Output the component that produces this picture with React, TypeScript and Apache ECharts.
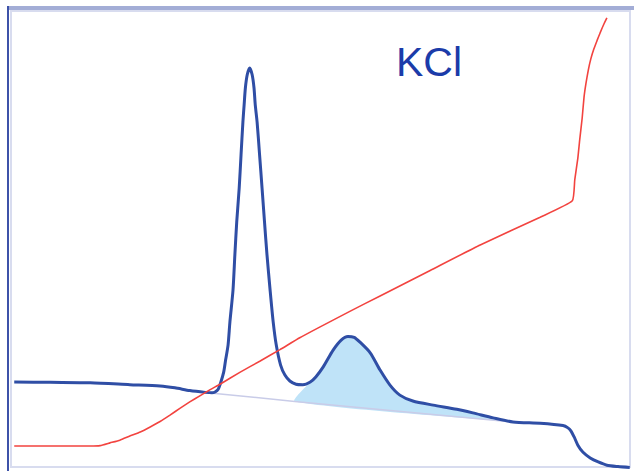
import React, { useEffect, useRef } from "react";
import * as echarts from "echarts";

// UV trace (blue): elution volume (% of run) vs absorbance (% of full scale)
const uvVolume = [
  0.2, 6.0, 12.5, 18.9, 23.8, 26.2, 28.6, 31.1, 32.2, 32.7, 33.2, 33.6, 34.1, 34.4,
  34.8, 35.1, 35.6, 35.9, 36.2, 36.6, 36.9, 37.2, 37.4, 37.6, 37.9, 38.3, 38.7, 39.0,
  39.2, 39.5, 39.9, 40.3, 40.7, 41.1, 41.6, 42.1, 42.6, 43.3, 44.0, 44.8, 45.8, 46.9,
  48.1, 49.0, 50.2, 51.8, 53.1, 54.2, 55.2, 56.1, 57.8, 59.4, 61.0, 62.6, 64.7, 68.0,
  71.8, 74.4, 77.7, 80.9, 85.3, 89.0, 89.8, 90.3, 90.8, 91.4, 92.2, 93.4, 94.7, 96.1,
  97.9, 99.8,
];
const uvAbsorbance = [
  18.7, 18.6, 18.5, 18.1, 17.8, 17.4, 16.8, 16.4, 16.3, 16.5, 17.1, 18.5, 20.9, 23.5,
  26.8, 31.9, 38.9, 46.6, 53.8, 61.3, 68.6, 75.8, 79.6, 83.3, 86.2, 87.7, 86.2, 83.3,
  79.6, 75.8, 68.6, 61.3, 53.8, 46.6, 38.9, 31.9, 26.8, 22.4, 20.2, 18.9, 18.2, 18.1,
  18.7, 19.8, 22.0, 25.7, 27.9, 28.7, 28.5, 27.5, 25.1, 21.3, 18.0, 15.8, 14.5, 13.6,
  12.7, 11.9, 10.8, 9.9, 9.6, 9.1, 8.6, 7.9, 6.6, 4.8, 3.3, 2.0, 1.1, 0.4,
  0.1, -0.1,
];

// KCl gradient (red): elution volume vs % KCl
const kclVolume = [
  0.2, 12.5, 14.1, 15.7, 17.3, 18.9, 20.6, 22.2, 23.8, 25.4, 27.0, 28.6, 30.3, 31.9,
  33.5, 36.7, 40.0, 43.2, 46.4, 49.7, 54.5, 59.4, 67.5, 75.6, 85.3, 90.5, 90.9, 91.4,
  91.7, 92.1, 92.4, 92.7, 93.1, 93.5, 94.0, 94.5, 95.0, 95.6, 96.1,
];
const kclPercent = [
  4.6, 4.6, 4.7, 5.3, 5.9, 6.8, 7.7, 8.8, 10.0, 11.4, 12.9, 14.3, 15.7, 17.0,
  18.2, 20.8, 23.3, 25.8, 28.4, 30.8, 34.2, 37.6, 43.2, 48.8, 54.9, 58.5, 63.1, 67.9,
  71.9, 76.7, 81.3, 84.2, 87.3, 89.7, 91.9, 93.7, 95.4, 97.3, 98.7,
];

// Integration baseline drawn under the second peak
const baselineVolume = [31.1, 45.6, 80.9];
const baselineAbsorbance = [16.4, 14.4, 9.9];

// Integrated peak: starts on the baseline, follows the trace from its rise, ends on the baseline
const peakStartVolume = 45.6;
const peakRiseVolume = 48.1;
const peakEndVolume = 80.9;

const zip = (xs: number[], ys: number[]) => xs.map((x, i) => [x, ys[i]]);

export default function App() {
  const ref = useRef<HTMLDivElement>(null);

  useEffect(() => {
    if (!ref.current) return;
    const chart = echarts.init(ref.current, undefined, { renderer: "svg" });

    const uvPoints = zip(uvVolume, uvAbsorbance);
    const basePoints = zip(baselineVolume, baselineAbsorbance);
    const startIdx = baselineVolume.indexOf(peakStartVolume);
    const endIdx = baselineVolume.indexOf(peakEndVolume);
    const peakTop = uvPoints.filter((p) => p[0] >= peakRiseVolume && p[0] <= peakEndVolume);
    const peakOutline = [basePoints[startIdx], ...peakTop, basePoints[endIdx]];

    chart.setOption({
      animation: false,
      grid: { left: 13, right: 3, top: 12, bottom: 4 },
      xAxis: { type: "value", min: 0, max: 100, show: false },
      yAxis: { type: "value", min: 0, max: 100, show: false },
      graphic: [
        {
          type: "rect",
          shape: { x: 7, y: 6, width: 627, height: 4 },
          style: { fill: "#a3add6" },
          silent: true,
        },
        {
          type: "rect",
          shape: { x: 7, y: 6, width: 2, height: 465 },
          style: { fill: "#3d52a8" },
          silent: true,
        },
        {
          type: "rect",
          shape: { x: 11, y: 11, width: 619, height: 456 },
          style: { fill: "none", stroke: "#d8dcef", lineWidth: 2 },
          silent: true,
        },
        {
          type: "text",
          x: 396,
          y: 62,
          style: {
            text: "KCl",
            fill: "#1b3ba9",
            fontSize: 41,
            fontFamily: "Liberation Sans, Arial, sans-serif",
            verticalAlign: "middle",
          },
          silent: true,
        },
      ],
      series: [
        {
          type: "custom",
          name: "peak area",
          silent: true,
          data: [peakOutline[0]],
          encode: { x: 0, y: 1 },
          renderItem: (_params: any, api: any) => ({
            type: "polygon",
            shape: { points: peakOutline.map((p) => api.coord(p)), smooth: 0.2 },
            style: { fill: "#bfe3f8" },
          }),
        },
        {
          type: "line",
          name: "baseline",
          data: basePoints,
          showSymbol: false,
          silent: true,
          lineStyle: { color: "#c9cce8", width: 1.5 },
        },
        {
          type: "line",
          name: "UV",
          data: uvPoints,
          showSymbol: false,
          smooth: 0.25,
          silent: true,
          clip: false,
          lineStyle: { color: "#2f4ea5", width: 3 },
        },
        {
          type: "line",
          name: "KCl",
          data: zip(kclVolume, kclPercent),
          showSymbol: false,
          smooth: 0.15,
          silent: true,
          clip: false,
          lineStyle: { color: "#f2433f", width: 1.6 },
        },
      ],
    });

    return () => chart.dispose();
  }, []);

  return <div ref={ref} style={{ width: 634, height: 471, position: "absolute", left: 0, top: 0 }} />;
}
